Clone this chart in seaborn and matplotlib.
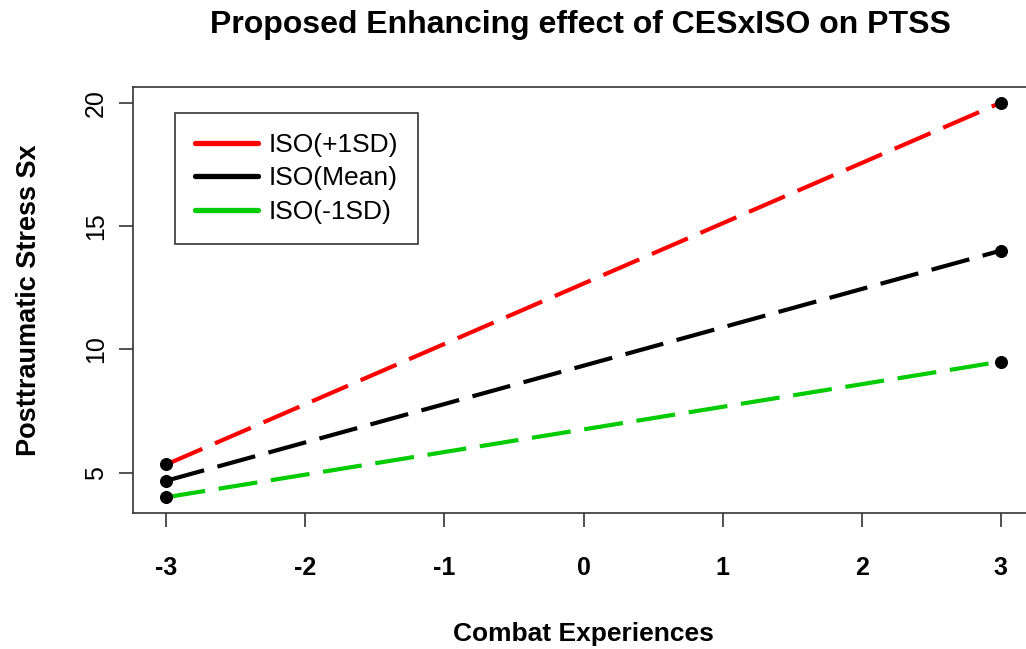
import numpy as np
import pandas as pd
import seaborn as sns
import matplotlib.pyplot as plt
from matplotlib.lines import Line2D

# Data
ces = [-3, 3]
iso_plus = [5.33, 20.0]
iso_mean = [4.67, 14.0]
iso_minus = [4.0, 9.5]
groups = ["ISO(+1SD)", "ISO(Mean)", "ISO(-1SD)"]
colors = ["#ff0000", "#000000", "#00cc00"]

df = pd.DataFrame({
    "ces": ces * 3,
    "ptss": iso_plus + iso_mean + iso_minus,
    "group": [g for g in groups for _ in ces],
})

sns.set_style("white")
plt.rcParams['font.family'] = ['Liberation Sans', 'DejaVu Sans']
plt.rcParams['text.color'] = 'black'
plt.rcParams['axes.labelcolor'] = 'black'
plt.rcParams['xtick.color'] = 'black'
plt.rcParams['ytick.color'] = 'black'

fig = plt.figure(figsize=(10.26, 6.49), dpi=100)
ax = fig.add_axes([133 / 1026, 136 / 649, 901 / 1026, 426 / 649])

dash = (9.4, 3.3)
sns.lineplot(data=df, x="ces", y="ptss", hue="group", hue_order=groups,
             palette=colors, style="group",
             dashes={g: dash for g in groups},
             linewidth=3, legend=False, ax=ax)
sns.scatterplot(data=df, x="ces", y="ptss", color="black", s=75,
                edgecolor="black", zorder=5, legend=False, ax=ax)

ax.set_xlim(-3.24, 3.24)
ax.set_ylim(3.36, 20.64)
ax.set_xticks([-3, -2, -1, 0, 1, 2, 3])
ax.set_yticks([5, 10, 15, 20])
ax.set_xticklabels(["-3", "-2", "-1", "0", "1", "2", "3"], fontweight="bold", fontsize=18,
                   family=['Liberation Sans Narrow', 'Liberation Sans'])
ax.set_yticklabels(["5", "10", "15", "20"], fontsize=18, rotation=90, va="center")
ax.tick_params(axis="both", direction="out", length=10, width=1.2, color="#333333",
               bottom=True, left=True)
ax.tick_params(axis="x", pad=21)
ax.tick_params(axis="y", pad=8)
for s in ax.spines.values():
    s.set_color("#333333")
    s.set_linewidth(1.2)

ax.set_xlabel("Combat Experiences", fontweight="bold", fontsize=19, labelpad=30)
ax.set_ylabel("Posttraumatic Stress Sx", fontweight="bold", fontsize=19.5, labelpad=30)
fig.suptitle("Proposed Enhancing effect of CESxISO on PTSS", fontweight="bold",
             fontsize=23, x=580 / 1026, y=0.984)

handles = [Line2D([0], [0], color=c, lw=3.8) for c in colors]
leg = ax.legend(handles, groups, loc="upper left", bbox_to_anchor=(0.0466, 0.939),
                borderaxespad=0, fontsize=19, frameon=True, fancybox=False,
                edgecolor="black", handlelength=2.4, handletextpad=0.4,
                borderpad=0.75, labelspacing=0.36)
leg.get_frame().set_linewidth(1.2)

fig.savefig("out.png", dpi=100)
